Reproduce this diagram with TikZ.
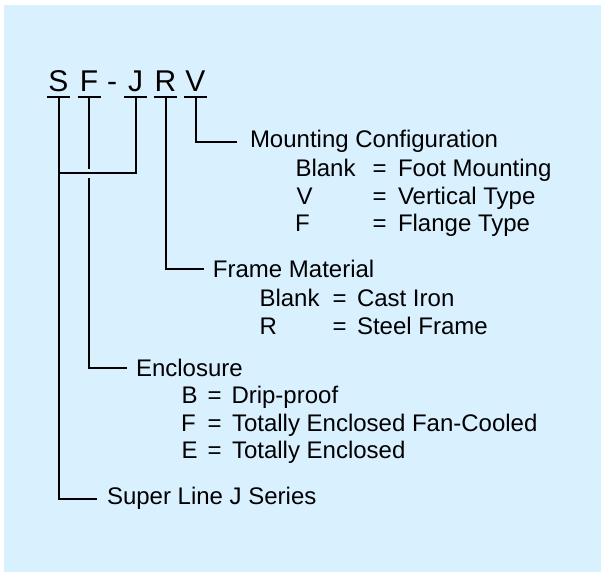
\documentclass[tikz,border=0pt]{standalone}
\usepackage{fontspec}
\setmainfont{Liberation Sans}
\usepackage{tikz}
\definecolor{panel}{RGB}{217,240,255}

\begin{document}
\begin{tikzpicture}[x=0.5pt, y=-0.5pt,
    line width=1pt,
    letter/.style={inner sep=0pt,
        text depth=2pt,
        minimum width=10.5pt,
        anchor=base,
        font=\fontsize{15}{18}\selectfont},
    head/.style={inner xsep=4pt,
        inner ysep=0pt,
        anchor=base west,
        font=\fontsize{12}{14}\selectfont},
    item/.style={inner sep=0pt,
        anchor=base west,
        font=\fontsize{12}{14}\selectfont}]
                % Panel
                \useasboundingbox (0,0) rectangle (601,572);
                \fill [panel] (4,5) rectangle (601,572);
                % Model code
                \node [letter] (S) at (58.5,92) {S};
                \node [letter] (F) at (89,92) {F};
                \node [letter] (dash) at (112,92) {-};
                \node [letter] (J) at (135.5,92) {J};
                \node [letter] (R) at (165.5,92) {R};
                \node [letter] (V) at (195.5,92) {V};
                \draw (S.south west) -- (S.south east);
                \draw (F.south west) -- (F.south east);
                \draw (J.south west) -- (J.south east);
                \draw (R.south west) -- (R.south east);
                \draw (V.south west) -- (V.south east);
                % Headings
                \node [head,
                    inner xsep=6pt] (mount) at (237,148) {Mounting Configuration};
                \node [head] (frame) at (204,278) {Frame Material};
                \node [head] (encl) at (127,377) {Enclosure};
                \node [head,
                    inner xsep=4.5pt] (super) at (97,505) {Super Line J Series};
                % Mounting configuration
                \node [item] (m1) at (294.5,177) {Blank};
                \node [item] (m1eq) at (371.5,177) {=};
                \node [item] (m1txt) at (397,177) {Foot Mounting};
                \node [item] (m2) at (295.5,205) {V};
                \node [item] (m2eq) at (371.5,205) {=};
                \node [item] (m2txt) at (397,205) {Vertical Type};
                \node [item] (m3) at (294,232) {F};
                \node [item] (m3eq) at (371.5,232) {=};
                \node [item] (m3txt) at (397,232) {Flange Type};
                % Frame material
                \node [item] (f1) at (258.5,307) {Blank};
                \node [item] (f1eq) at (331.5,307) {=};
                \node [item] (f1txt) at (356,307) {Cast Iron};
                \node [item] (f2) at (258.5,335) {R};
                \node [item] (f2eq) at (331.5,335) {=};
                \node [item] (f2txt) at (356,335) {Steel Frame};
                % Enclosure
                \node [item] (e1) at (180.5,404) {B};
                \node [item] (e1eq) at (206.5,404) {=};
                \node [item] (e1txt) at (230.5,404) {Drip-proof};
                \node [item] (e2) at (180,432) {F};
                \node [item] (e2eq) at (206.5,432) {=};
                \node [item] (e2txt) at (231,432) {Totally Enclosed Fan-Cooled};
                \node [item] (e3) at (180.5,459) {E};
                \node [item] (e3eq) at (206.5,459) {=};
                \node [item] (e3txt) at (231,459) {Totally Enclosed};
                % Connectors
                \coordinate (sj) at (59,173);
                \draw (V.south) |- (mount.west);
                \draw (R.south) |- (frame.west);
                \draw (F.south) -- ++(0,72);
                \draw (F.south) ++(0,81) |- (encl.west);
                \draw (J.south) |- (sj);
                \draw (S.south) |- (super.west);
            \end{tikzpicture}
\end{document}
